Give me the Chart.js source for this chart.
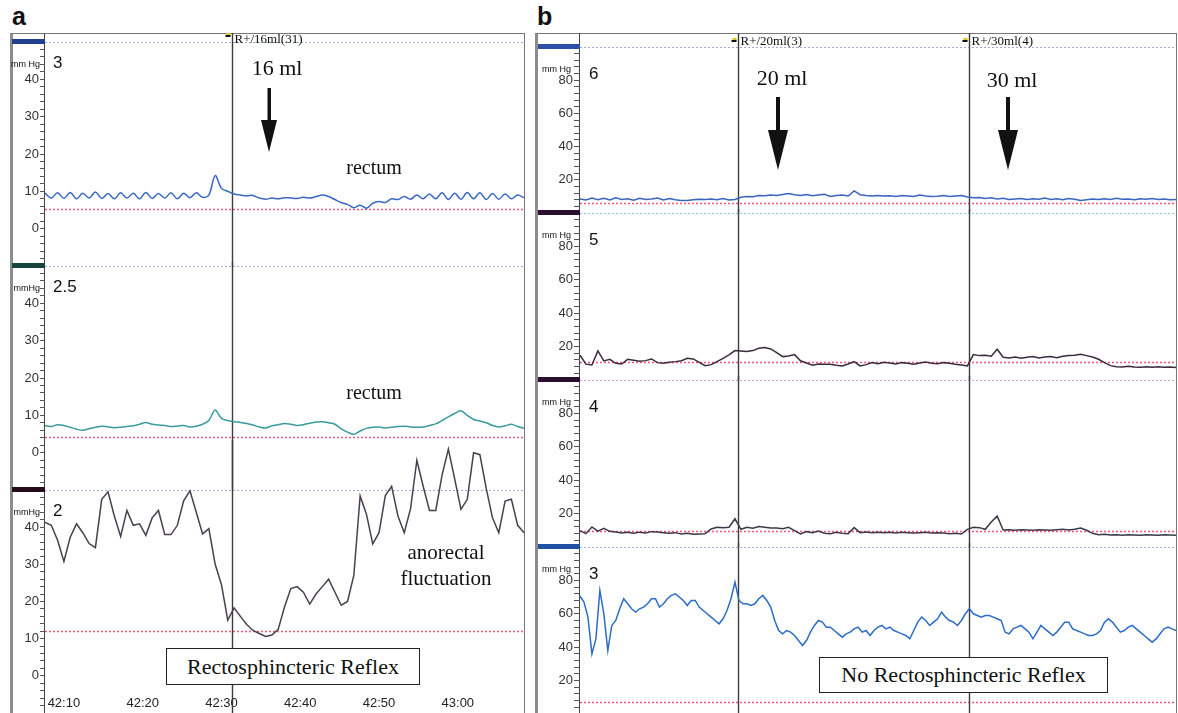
<!DOCTYPE html>
<html>
<head>
<meta charset="utf-8">
<script src="https://cdn.jsdelivr.net/npm/chart.js@4.4.1/dist/chart.umd.min.js"></script>
<style>
  body { margin: 0; background: #fff; }
  #page { position: relative; width: 1178px; height: 713px; overflow: hidden; font-family: 'Liberation Sans', Arial, sans-serif; }
  canvas { position: absolute; }
  .frame { position: absolute; box-sizing: border-box; border: 1px solid #777; border-left: 3px solid #8c8c8c; }
  .axisline { position: absolute; width: 1px; background: #444; }
  .panel { position: absolute; font-weight: bold; font-size: 25px; color: #111; }
  .note { position: absolute; font-family: 'Liberation Serif', 'Times New Roman', serif; color: #111; white-space: nowrap; line-height: 1; transform: translateX(-50%); text-align: center; }
  .box { position: absolute; box-sizing: border-box; border: 1px solid #222; background: #fff; font-family: 'Liberation Serif', 'Times New Roman', serif; font-size: 22px; color: #111; display: flex; align-items: center; justify-content: center; white-space: nowrap; }
  svg { position: absolute; left: 0; top: 0; }
</style>
</head>
<body>
<div id="page">
  <div class="panel" style="left:12px;top:2px">a</div>
  <div class="panel" style="left:537px;top:2px">b</div>

  <div class="frame" style="left:10px;top:33px;width:515px;height:700px"></div>
  <div class="axisline" style="left:44px;top:33px;height:690px"></div>
  <div class="frame" style="left:535px;top:33px;width:642px;height:700px"></div>
  <div class="axisline" style="left:579px;top:33px;height:690px"></div>

  <canvas id="ca1" width="515" height="233" style="left:10px;top:33px"></canvas>
  <canvas id="ca2" width="515" height="228" style="left:10px;top:262px"></canvas>
  <canvas id="ca3" width="515" height="277" style="left:10px;top:440px"></canvas>

  <canvas id="cb6" width="641" height="180" style="left:536px;top:33px"></canvas>
  <canvas id="cb5" width="641" height="171" style="left:536px;top:209px"></canvas>
  <canvas id="cb4" width="641" height="171" style="left:536px;top:376px"></canvas>
  <canvas id="cb3" width="641" height="171" style="left:536px;top:543px"></canvas>

  <!-- annotations -->
  <div class="note" style="left:277px;top:57px;font-size:22px">16 ml</div>
  <div class="note" style="left:374px;top:157px;font-size:20px">rectum</div>
  <div class="note" style="left:374px;top:382px;font-size:20px">rectum</div>
  <div class="note" style="left:446px;top:539px;font-size:21px;line-height:26px">anorectal<br>fluctuation</div>
  <div class="box" style="left:166px;top:648px;width:254px;height:37px">Rectosphincteric Reflex</div>

  <div class="note" style="left:782px;top:67px;font-size:22px">20 ml</div>
  <div class="note" style="left:1012px;top:69px;font-size:22px">30 ml</div>
  <div class="box" style="left:819px;top:657px;width:289px;height:36px">No Rectosphincteric Reflex</div>

  <svg width="1178" height="713">
    <rect x="267.5" y="88" width="3.5" height="34" fill="#111"/>
    <polygon points="261,120 277,120 269,152" fill="#111"/>
    <rect x="776" y="97" width="4" height="35" fill="#111"/>
    <polygon points="768,130 788,130 778,170" fill="#111"/>
    <rect x="1006" y="97" width="4" height="35" fill="#111"/>
    <polygon points="998,130 1018,130 1008,170" fill="#111"/>
  </svg>
</div>

<script>
// ---- panel a : time in seconds after 42:00, one sample every 0.8 s ----
var aStart = 7.6;
var aStep = 0.8;
var aTickSeconds = [10, 20, 30, 40, 50, 60];
var aTickLabels = ['42:10', '42:20', '42:30', '42:40', '42:50', '43:00'];
var aYLabels = [0, 10, 20, 30, 40];
var aEvents = [31.3];
var aEventLabels = ['R+/16ml(31)'];

// channel 3 (rectum)
var ch3a = [9.5, 8.2, 9.6, 8.1, 9.7, 8.0, 9.5, 8.2, 9.8, 8.1, 9.4, 8.0, 9.6, 8.2, 9.5, 8.0, 9.7, 8.1, 9.4, 8.2,
  9.6, 8.0, 9.5, 8.3, 9.6, 8.4, 9.0, 14.2, 10.8, 10.0, 9.3, 9.0, 8.8, 8.9, 8.2, 7.9, 8.2, 8.0, 8.3, 8.2,
  8.1, 8.4, 8.2, 8.6, 9.0, 8.6, 7.8, 7.0, 6.5, 5.6, 6.3, 5.5, 6.8, 7.3, 7.0, 8.0, 7.8, 8.6, 7.9, 9.0,
  8.0, 9.3, 8.0, 9.6, 7.8, 9.5, 7.9, 9.7, 8.0, 9.6, 7.8, 9.4, 7.9, 9.3, 8.0, 9.0, 8.3];
// channel 2.5 (rectum)
var ch25a = [7.2, 7.0, 7.5, 7.3, 6.8, 6.3, 6.0, 6.4, 6.8, 7.1, 6.9, 6.7, 6.8, 7.0, 7.2, 7.6, 8.1, 7.6, 7.4, 7.3,
  7.0, 7.1, 7.3, 6.9, 7.1, 7.6, 8.6, 11.4, 9.2, 8.6, 8.3, 8.1, 7.8, 7.4, 6.9, 6.6, 7.2, 7.5, 7.8, 7.6,
  7.3, 7.5, 7.9, 8.2, 8.3, 8.0, 7.6, 6.4, 5.5, 4.9, 5.8, 6.5, 6.8, 6.9, 6.6, 6.8, 7.0, 7.1, 6.9, 6.8,
  6.9, 7.3, 7.7, 8.6, 9.6, 10.5, 11.2, 10.0, 8.9, 8.5, 8.0, 7.3, 6.9, 7.2, 7.6, 7.0, 6.5];
// channel 2 (anal sphincter)
var ch2a = [41.3, 40.5, 36.5, 30.8, 37.3, 40.9, 38.5, 35.6, 34.5, 47.5, 49.5, 43.0, 37.5, 44.5, 40.5, 40.9, 37.8, 42.5, 44.5, 38.0,
  38.0, 40.5, 47.1, 49.8, 44.0, 38.2, 39.6, 30.0, 24.5, 15.0, 18.3, 16.0, 13.8, 12.2, 11.4, 10.6, 11.0, 12.5, 18.5, 23.5,
  24.0, 22.5, 19.3, 22.0, 24.0, 26.0, 22.5, 19.0, 20.0, 27.0, 48.4, 43.5, 35.5, 38.5, 48.5, 51.0, 43.0, 38.5, 45.0, 58.0,
  51.0, 44.5, 44.5, 54.0, 61.0, 53.0, 44.8, 47.5, 60.0, 59.5, 50.5, 42.5, 38.5, 47.0, 47.5, 40.5, 38.5];
var aBaselines = [5.2, 4.2, 12];

// ---- panel b : arbitrary time units 0..100 ----
var bStep = 1;
var bStepFine = 2 / 3;
var bYLabels = [20, 40, 60, 80];
var bEvents = [26.5, 65.3];
var bEventLabels = ['R+/20ml(3)', 'R+/30ml(4)'];

var ch6b = [8.5, 7.8, 9.0, 8.0, 8.8, 7.9, 9.2, 8.1, 8.6, 7.7, 8.9, 8.2, 8.4, 9.0, 7.9, 8.7, 8.0, 7.6, 7.5, 8.0,
  8.3, 8.2, 8.5, 8.0, 8.7, 7.9, 8.2, 9.5, 10.0, 9.8, 10.6, 10.4, 10.9, 10.6, 11.2, 11.8, 11.0, 10.6, 11.2, 10.4,
  10.9, 11.3, 10.0, 10.6, 10.8, 10.2, 13.3, 11.0, 10.5, 10.3, 10.6, 10.2, 10.4, 10.0, 10.5, 10.3, 9.9, 10.8, 10.2, 10.0,
  10.1, 10.6, 10.0, 10.3, 10.5, 9.6, 9.2, 9.4, 8.8, 9.2, 8.5, 8.9, 8.2, 8.5, 8.8, 8.1, 8.6, 8.3, 9.0, 8.2,
  8.6, 8.0, 8.7, 8.3, 7.6, 8.0, 8.4, 8.1, 8.6, 8.2, 8.9, 8.3, 8.5, 8.0, 8.6, 8.3, 8.7, 8.2, 8.5, 8.0, 8.2];
var ch5b = [14.8, 9.5, 9.0, 17.4, 11.4, 12.4, 10.0, 9.6, 12.4, 11.8, 11.2, 11.6, 12.6, 10.4, 10.0, 10.6, 11.0, 11.5, 13.0, 12.6,
  10.6, 8.6, 9.2, 11.0, 13.0, 15.0, 17.6, 17.4, 17.0, 17.6, 19.0, 19.4, 18.6, 16.4, 14.0, 14.4, 15.2, 11.5, 10.2, 8.8,
  9.6, 9.4, 9.4, 8.8, 8.4, 9.6, 11.0, 8.4, 9.2, 10.4, 9.8, 10.6, 10.2, 9.6, 10.4, 10.0, 9.4, 10.2, 10.8, 10.0,
  9.8, 10.4, 10.0, 9.4, 9.0, 8.4, 15.2, 14.6, 14.8, 14.2, 18.4, 13.6, 13.2, 13.8, 13.0, 13.6, 14.0, 13.2, 13.8, 14.0,
  13.4, 14.2, 14.6, 14.8, 15.4, 14.6, 13.8, 12.4, 10.4, 8.6, 8.0, 7.8, 8.2, 7.8, 7.6, 8.0, 7.7, 7.9, 7.6, 7.8, 7.5];
var ch4b = [9.8, 8.0, 12.0, 9.5, 11.2, 9.4, 9.0, 8.4, 8.8, 8.2, 8.9, 8.4, 9.2, 9.0, 8.6, 8.2, 8.6, 7.8, 8.2, 7.6,
  7.8, 8.0, 10.8, 11.8, 11.6, 11.8, 16.9, 10.6, 11.8, 11.2, 12.2, 11.8, 11.4, 11.4, 11.0, 11.8, 9.8, 7.8, 9.2, 8.6,
  9.6, 8.2, 8.0, 8.8, 8.2, 8.0, 11.6, 8.6, 9.0, 8.6, 8.8, 8.6, 8.8, 8.4, 8.8, 8.6, 8.4, 8.6, 8.8, 8.4,
  8.6, 8.4, 8.0, 8.2, 7.8, 10.6, 11.8, 11.6, 10.6, 15.0, 18.5, 10.2, 10.4, 10.0, 10.4, 10.2, 10.0, 10.4, 10.2, 10.0,
  10.4, 10.6, 10.2, 10.6, 11.4, 10.0, 8.2, 7.4, 7.6, 7.2, 7.4, 7.0, 7.4, 7.2, 7.0, 7.4, 7.2, 7.0, 7.4, 7.2, 7.0];
var ch3b = [70.5, 67, 58, 36, 45, 74, 60, 38, 53, 56, 63, 69, 66, 63, 61, 63, 64, 66, 69, 69,
  64, 66, 69, 71, 72, 70, 68, 65, 68, 68, 64, 62, 60, 58, 56, 54, 57, 62, 69, 79,
  68, 66, 66, 65, 66, 69, 71, 68, 64, 56, 50, 48, 50, 49, 47, 44, 41, 44, 49, 53,
  56, 55, 52, 52, 50, 48, 46, 48, 49, 51, 52, 49, 50, 47, 50, 52, 53, 51, 52, 50,
  49, 48, 47, 45, 50, 55, 58, 56, 53, 55, 57, 61, 58, 56, 55, 53, 56, 60, 63, 60,
  59, 58, 59, 59, 58, 57, 56, 49, 48, 51, 52, 53, 51, 49, 45, 49, 53, 51, 49, 47,
  49, 52, 55, 55, 51, 50, 49, 48, 47, 47, 48, 50, 55, 57, 55, 52, 49, 50, 52, 53,
  51, 49, 47, 45, 43, 45, 48, 51, 52, 51, 50];
var bBaselines = [6.2, 10.6, 9.5, 6.9];

var sans = '"Liberation Sans", Arial, sans-serif';
var serif = '"Liberation Serif", "Times New Roman", serif';

// 條帶裝飾: top line, baseline, gutter bar, event lines, channel name
var stripDecor = {
  id: 'stripDecor',
  beforeDatasetsDraw: function (chart, args, o) {
    var ctx = chart.ctx, a = chart.chartArea;
    var x = chart.scales.x, y = chart.scales.y;
    ctx.save();
    ctx.setLineDash([2, 2]);
    ctx.lineWidth = 1;
    ctx.strokeStyle = o.topLine;
    ctx.beginPath(); ctx.moveTo(a.left, a.top + 0.5); ctx.lineTo(a.right, a.top + 0.5); ctx.stroke();
    var by = Math.round(y.getPixelForValue(o.baseline)) + 0.5;
    ctx.lineWidth = 1.5;
    ctx.strokeStyle = '#f0587a';
    ctx.beginPath(); ctx.moveTo(a.left, by); ctx.lineTo(a.right, by); ctx.stroke();
    ctx.setLineDash([]);
    ctx.fillStyle = o.bar;
    ctx.fillRect(2, a.top - 3, a.left - 2, 5);

    ctx.strokeStyle = '#3c3c3c';
    ctx.lineWidth = 1.4;
    o.events.forEach(function (ev, k) {
      var px = Math.round(x.getPixelForValue(ev)) + 0.5;
      ctx.beginPath(); ctx.moveTo(px, 0); ctx.lineTo(px, chart.height); ctx.stroke();
      if (o.eventLabels) {
        ctx.fillStyle = '#e2c21c';
        ctx.fillRect(px - 6, a.top - 9, 4, 3);
        ctx.fillStyle = '#111';
        ctx.fillRect(px - 7, a.top - 7, 5, 2);
        ctx.font = '13px ' + serif;
        ctx.textAlign = 'left';
        ctx.textBaseline = 'alphabetic';
        ctx.fillText(o.eventLabels[k], px + 2, a.top + o.labelDy);
      }
    });

    ctx.fillStyle = '#111';
    ctx.textBaseline = 'alphabetic';
    ctx.textAlign = 'left';
    ctx.font = '17px ' + sans;
    ctx.fillText(o.channel, a.left + o.chDx, a.top + o.chDy);
    ctx.font = '9px ' + sans;
    ctx.textAlign = 'right';
    ctx.fillText(o.unit, a.left - o.unitDx, a.top + 25);
    ctx.restore();
  }
};

function noPad(sc) {
  sc.paddingTop = 0; sc.paddingBottom = 0;
  sc.paddingLeft = 0; sc.paddingRight = 0;
}

function makeStrip(id, s) {
  var pts = s.values.map(function (v, i) { return { x: s.start + i * s.step, y: v }; });
  var xAxis = {
    type: 'linear', min: s.xMin, max: s.xMax, display: !!s.timeAxis,
    grid: { drawOnChartArea: false, drawTicks: false },
    border: { display: false },
    ticks: {
      mirror: true, padding: 2, color: '#222', font: { family: sans, size: 13 },
      maxRotation: 0, autoSkip: false,
      callback: function (v, i) { return aTickLabels[i]; }
    },
    afterBuildTicks: function (sc) {
      sc.ticks = aTickSeconds.map(function (v) { return { value: v }; });
    },
    afterFit: noPad
  };
  return new Chart(document.getElementById(id), {
    type: 'line',
    data: {
      datasets: [{
        data: pts,
        borderColor: s.color,
        borderWidth: s.width || 1.5,
        pointRadius: 0,
        tension: s.tension || 0,
        clip: false
      }]
    },
    options: {
      responsive: false,
      animation: false,
      events: [],
      layout: { padding: { top: s.padTop || 0, right: 1, left: 0, bottom: 0 } },
      plugins: {
        legend: { display: false },
        tooltip: { enabled: false },
        stripDecor: s.decor
      },
      scales: {
        x: xAxis,
        y: {
          min: s.yMin, max: s.yMax,
          afterFit: function (sc) { noPad(sc); sc.width = s.gutter; },
          border: { display: false },
          grid: { drawOnChartArea: false, tickLength: s.tickLen, tickColor: '#555', tickWidth: 1 },
          ticks: {
            stepSize: s.yStep, autoSkip: false, padding: 1, color: '#333',
            font: { family: sans, size: 13 },
            callback: function (v) { return s.yLabels.indexOf(v) >= 0 ? v : ''; }
          }
        }
      }
    },
    plugins: [stripDecor]
  });
}

function aStrip(id, values, color, k, extra) {
  var s = {
    values: values, start: aStart, step: aStep, xMin: 7.6, xMax: 68.4,
    yMin: -10, yMax: 50, yStep: 2, yLabels: aYLabels, gutter: 35, tickLen: 5,
    color: color,
    decor: {
      topLine: '#9fabd6', baseline: aBaselines[k], bar: extra.bar,
      events: aEvents, eventLabels: extra.labels ? aEventLabels : null, labelDy: 1,
      channel: extra.channel, chDx: 8, chDy: 26, unit: extra.unit, unitDx: 5
    }
  };
  for (var key in extra) s[key] = extra[key];
  return makeStrip(id, s);
}

function bStrip(id, values, step, color, k, extra) {
  var s = {
    values: values, start: 0, step: step, xMin: 0, xMax: 100,
    yMin: 0, yMax: 100, yStep: 4, yLabels: bYLabels, gutter: 44, tickLen: 6,
    color: color,
    decor: {
      topLine: extra.topLine, baseline: bBaselines[k], bar: extra.bar,
      events: bEvents, eventLabels: extra.labels ? bEventLabels : null, labelDy: -2,
      channel: extra.channel, chDx: 9, chDy: 32, unit: 'mm Hg', unitDx: 9
    }
  };
  for (var key in extra) s[key] = extra[key];
  return makeStrip(id, s);
}

aStrip('ca1', ch3a, '#3a68c2', 0, { bar: '#233f8f', channel: '3', unit: 'mm Hg', labels: true, padTop: 9, tension: 0.35 });
aStrip('ca2', ch25a, '#3a9a9e', 1, { bar: '#174640', channel: '2.5', unit: 'mmHg', padTop: 4, tension: 0.3 });
aStrip('ca3', ch2a, '#4a3f4f', 2, { bar: '#240c1a', channel: '2', unit: 'mmHg', padTop: 50, timeAxis: true, width: 1.5 });

bStrip('cb6', ch6b, bStep, '#3a64c0', 0, { bar: '#2c4fa8', topLine: '#9fabd6', channel: '6', labels: true, padTop: 14 });
bStrip('cb5', ch5b, bStep, '#3a2c3e', 1, { bar: '#2a0f2e', topLine: '#8ccbe0', channel: '5', padTop: 4 });
bStrip('cb4', ch4b, bStep, '#3e3848', 2, { bar: '#2a0f2e', topLine: '#d9a0d8', channel: '4', padTop: 4 });
bStrip('cb3', ch3b, bStepFine, '#2d6cc6', 3, { bar: '#1f52a5', topLine: '#9ab0e0', channel: '3', padTop: 4 });
</script>
</body>
</html>
